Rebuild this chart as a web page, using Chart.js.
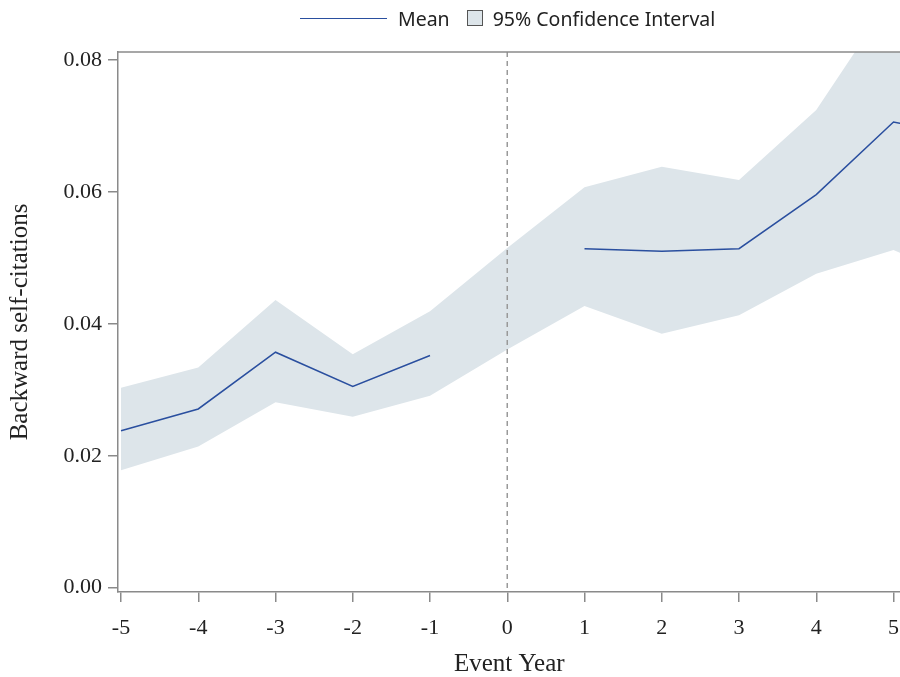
<!DOCTYPE html>
<html>
<head>
<meta charset="utf-8">
<script src="https://cdn.jsdelivr.net/npm/chart.js@4"></script>
<style>
  html, body { margin: 0; padding: 0; background: #fff; overflow: hidden; }
  #wrap { position: relative; width: 900px; height: 677px; overflow: hidden; }
  #inner { position: absolute; left: 0; top: 0; width: 912px; height: 677px; }
  #legend { position: absolute; top: 6px; left: 300px; height: 24px; display: flex; align-items: center;
            font-family: "Noto Sans", sans-serif; font-size: 19.5px; color: #222; }
  #legend .line { width: 87px; height: 0; border-top: 1.5px solid #2a4f9f; margin-right: 11px; }
  #legend .box { width: 14px; height: 14px; border: 1px solid #555; background: #dde5ea; margin: 0 10px 0 17px; }
</style>
</head>
<body>
<div id="wrap">
  <div id="inner"><canvas id="chart"></canvas></div>
  <div id="legend"><span class="line"></span><span>Mean</span><span class="box"></span><span>95% Confidence Interval</span></div>
</div>
<script>
// event years (the last one sits just past the right edge, the chart is cut off there)
const years = [-5, -4, -3, -2, -1, 0, 1, 2, 3, 4, 5, 6];
const meanVals = [0.0238, 0.0271, 0.0357, 0.0305, 0.0352, null, 0.0514, 0.0510, 0.0514, 0.0596, 0.0706, 0.0682];
const ciUpper = [0.0303, 0.0334, 0.0436, 0.0354, 0.0419, 0.0515, 0.0607, 0.0638, 0.0618, 0.0724, 0.0900, 0.0890];
const ciLower = [0.0178, 0.0214, 0.0281, 0.0259, 0.0291, 0.0361, 0.0427, 0.0385, 0.0413, 0.0476, 0.0512, 0.0459];
const xTicks = [-5, -4, -3, -2, -1, 0, 1, 2, 3, 4, 5];
const yTicks = [0, 0.02, 0.04, 0.06, 0.08];

const toPoints = (vals) => years.map((x, i) => ({ x: x, y: vals[i] }));

const axisGray = "#8a8a8a";
const serif = "'Liberation Serif', 'Times New Roman', serif";

// dashed line at event year 0 and the top frame line
const extras = {
  id: "extras",
  afterDatasetsDraw(chart) {
    const { ctx, chartArea, scales } = chart;
    const x0 = scales.x.getPixelForValue(0);
    ctx.save();
    ctx.strokeStyle = "#999";
    ctx.lineWidth = 1.5;
    ctx.setLineDash([5, 4]);
    ctx.beginPath();
    ctx.moveTo(x0, chartArea.top);
    ctx.lineTo(x0, chartArea.bottom);
    ctx.stroke();
    ctx.setLineDash([]);
    ctx.strokeStyle = axisGray;
    ctx.beginPath();
    ctx.moveTo(chartArea.left, chartArea.top);
    ctx.lineTo(chartArea.right, chartArea.top);
    ctx.stroke();
    ctx.restore();
  }
};

new Chart(document.getElementById("chart"), {
  type: "line",
  data: {
    datasets: [
      {
        label: "Mean",
        data: toPoints(meanVals),
        borderColor: "#2a4f9f",
        borderWidth: 1.5,
        pointRadius: 0,
        spanGaps: false,
        fill: false
      },
      {
        label: "95% Confidence Interval",
        data: toPoints(ciUpper),
        borderWidth: 0,
        borderColor: "rgba(0,0,0,0)",
        backgroundColor: "#dde5ea",
        pointRadius: 0,
        fill: "+1"
      },
      {
        label: "lower",
        data: toPoints(ciLower),
        borderWidth: 0,
        borderColor: "rgba(0,0,0,0)",
        pointRadius: 0,
        fill: false
      }
    ]
  },
  options: {
    responsive: true,
    maintainAspectRatio: false,
    animation: false,
    devicePixelRatio: 1,
    layout: { padding: { top: 52, right: 0, bottom: 0, left: 0 } },
    plugins: {
      legend: { display: false },
      tooltip: { enabled: false }
    },
    scales: {
      x: {
        type: "linear",
        min: -5.039,
        max: 5.091,
        afterBuildTicks: (s) => { s.ticks = xTicks.map(v => ({ value: v })); },
        afterFit: (s) => { s.height = 85; },
        ticks: {
          autoSkip: false,
          maxRotation: 0,
          padding: 13,
          color: "#222",
          font: { family: serif, size: 22 },
          callback: (v) => String(v)
        },
        grid: { drawOnChartArea: false, drawTicks: true, tickLength: 10, color: axisGray, lineWidth: 1.5 },
        border: { color: axisGray, width: 1.5 },
        title: {
          display: true,
          text: "Event Year",
          color: "#222",
          font: { family: serif, size: 25 },
          padding: { top: 0, bottom: -2 }
        }
      },
      y: {
        min: -0.00065,
        max: 0.08121,
        afterBuildTicks: (s) => { s.ticks = yTicks.map(v => ({ value: v })); },
        afterFit: (s) => { s.width = 118; },
        ticks: {
          padding: 6,
          color: "#222",
          font: { family: serif, size: 22 },
          callback: (v) => v.toFixed(2)
        },
        grid: { drawOnChartArea: false, drawTicks: true, tickLength: 10, color: axisGray, lineWidth: 1.5 },
        border: { color: axisGray, width: 1.5 },
        title: {
          display: true,
          text: "Backward self-citations",
          color: "#222",
          font: { family: serif, size: 25 },
          padding: { top: 5, bottom: 0 }
        }
      }
    }
  },
  plugins: [extras]
});
</script>
</body>
</html>
